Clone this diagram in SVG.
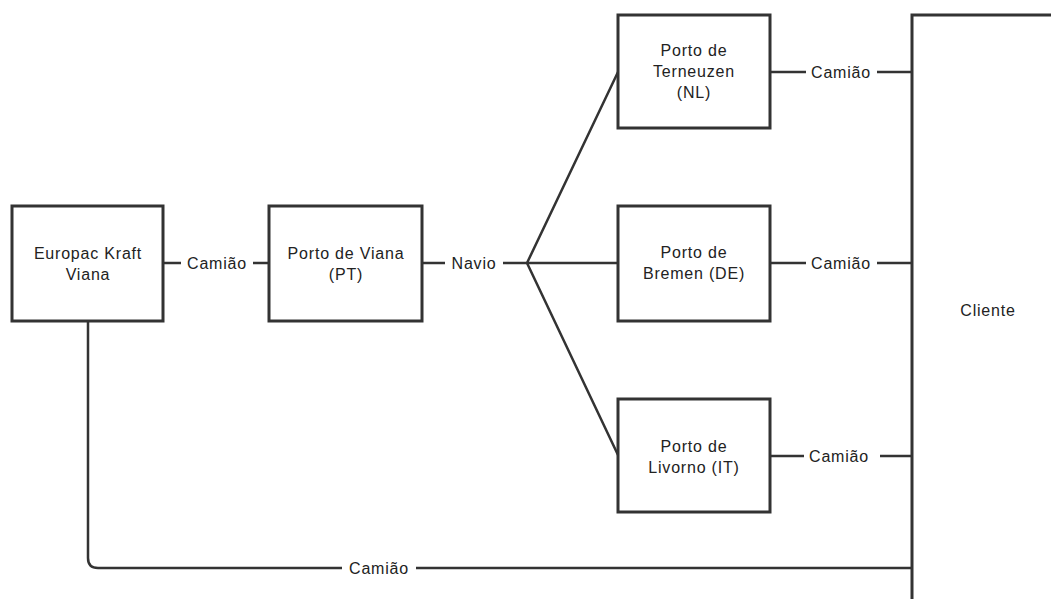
<svg xmlns="http://www.w3.org/2000/svg" width="1051" height="599" viewBox="0 0 1051 599">
<style>
.box{fill:#fff;stroke:#333;stroke-width:3}
.ln{fill:none;stroke:#333;stroke-width:2.5}
text{font-family:"Liberation Sans",Arial,sans-serif;font-size:16px;letter-spacing:0.8px;fill:#222;text-anchor:middle}
</style>
<rect width="1051" height="599" fill="#fff"/>
<g id="connectors">
<path class="ln" d="M163,263 H181 M253,263 H269"/>
<path class="ln" d="M422,263 H445 M503,263 H618"/>
<path class="ln" d="M527,263 L618,72 M527,263 L618,455"/>
<path class="ln" d="M770,72 H806 M877,72 H912"/>
<path class="ln" d="M770,263 H806 M877,263 H912"/>
<path class="ln" d="M770,456 H804 M880,456 H912"/>
<path class="ln" d="M88,321 V558 Q88,568 98,568 H342 M416,568 H912"/>
<text x="217" y="269">Camião</text>
<text x="474" y="269">Navio</text>
<text x="841" y="78">Camião</text>
<text x="841" y="269">Camião</text>
<text x="839" y="462">Camião</text>
<text x="379" y="574">Camião</text>
</g>
<g id="europac"><rect class="box" x="12" y="206" width="151" height="115"/><text x="88" y="259">Europac Kraft</text><text x="88" y="280">Viana</text></g>
<g id="viana"><rect class="box" x="269" y="206" width="153" height="115"/><text x="346" y="259">Porto de Viana</text><text x="346" y="280">(PT)</text></g>
<g id="terneuzen"><rect class="box" x="618" y="15" width="152" height="113"/><text x="694" y="56">Porto de</text><text x="694" y="77">Terneuzen</text><text x="694" y="98">(NL)</text></g>
<g id="bremen"><rect class="box" x="618" y="206" width="152" height="115"/><text x="694" y="258">Porto de</text><text x="694" y="279">Bremen (DE)</text></g>
<g id="livorno"><rect class="box" x="618" y="399" width="152" height="113"/><text x="694" y="452">Porto de</text><text x="694" y="473">Livorno (IT)</text></g>
<g id="cliente"><rect class="box" x="912" y="15" width="200" height="700"/><text x="988" y="316">Cliente</text></g>
</svg>
